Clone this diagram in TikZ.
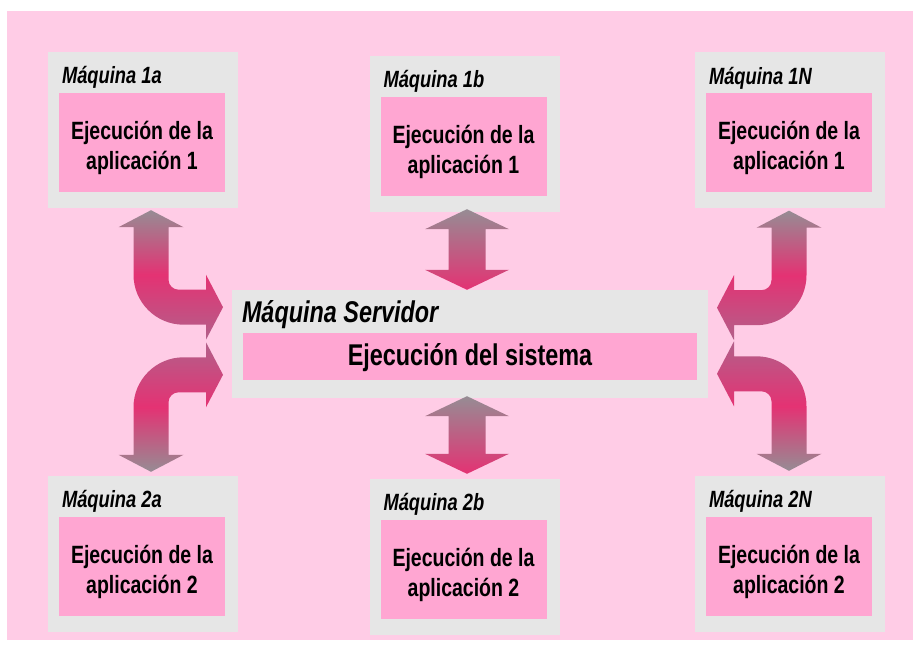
\documentclass[tikz,border=0pt]{standalone}
\usepackage{fontspec}
\setmainfont{Liberation Sans}[FakeStretch=0.78]
\usetikzlibrary{calc}

\definecolor{bgpink}{RGB}{255,204,230}
\definecolor{boxgray}{RGB}{230,230,230}
\definecolor{apppink}{RGB}{255,166,210}
\definecolor{arrgray}{RGB}{150,140,148}
\definecolor{arrpink}{RGB}{228,50,115}
\definecolor{arrmauve}{RGB}{178,96,138}

\tikzset{
  machine/.style = {fill=boxgray, minimum width=190pt, minimum height=156pt, inner sep=0pt},
  app/.style     = {fill=apppink, minimum width=166pt, minimum height=99pt, inner sep=0pt},
  apptext/.style = {align=center, inner sep=0pt, font=\bfseries\fontsize{25}{30}\selectfont},
  mtitle/.style  = {anchor=base west, inner sep=0pt, font=\bfseries\itshape\fontsize{23.5}{27}\selectfont},
  vshade/.style  = {top color=arrgray, bottom color=arrpink},
  bendtop/.style = {top color=arrgray, bottom color=arrmauve, middle color=arrpink},
  bendbot/.style = {top color=arrmauve, bottom color=arrgray, middle color=arrpink},
}

% straight double arrow, #1 upper tip, #2 lower tip
\newcommand\vlink[2]{%
  \path[vshade] let \p1=#1, \p2=#2 in
    (\x1,\y1) -- (\x1+42pt,\y1-20pt) -- (\x1+18.5pt,\y1-20pt)
    -- (\x1+18.5pt,\y2+20pt) -- (\x1+42pt,\y2+20pt) -- (\x1,\y2)
    -- (\x1-42pt,\y2+20pt) -- (\x1-18.5pt,\y2+20pt)
    -- (\x1-18.5pt,\y1-20pt) -- (\x1-42pt,\y1-20pt) -- cycle;}

% bent double arrow, #1 tip at machine, #2/#3 directions, #4 shading
\newcommand\bendarrow[4]{%
  \begin{scope}[shift={#1}, x={(#2pt,0)}, y={(0,#3pt)}]
    \path[#4] (0,0) -- (32.5,17) -- (17.5,17) -- (17.5,69.5)
      .. controls (17.5,75) and (22,79.5) .. (27.5,79.5)
      -- (55,79.5) -- (55,64.5) -- (72,97) -- (55,129.5) -- (55,114.5)
      -- (32.5,114.5) .. controls (4.9,114.5) and (-17.5,92) .. (-17.5,64.5)
      -- (-17.5,17) -- (-32.5,17) -- cycle;
  \end{scope}}

\begin{document}
\begin{tikzpicture}[x=1pt, y=-1pt]
\useasboundingbox (0,0) rectangle (919,647);
\fill[bgpink] (7,11) rectangle (913,640);

% client machines
\foreach \id/\cx/\cy/\n in {1a/143/130/1, 1b/464.5/134/1, 1N/790/130.5/1,
                            2a/143/554/2, 2b/464.5/557/2, 2N/790/554/2} {
  \node[machine] (m\id) at (\cx,\cy) {};
  \node[mtitle] (t\id) at ($(m\id.north west)+(14,32)$) {Máquina \id};
  \node[app] (a\id) at ($(m\id.center)+(-1,12.5)$) {};
  \node[apptext] (l\id) at ($(a\id.center)+(0,5)$) {Ejecución de la\\aplicación \n};
}

% server
\node[machine, minimum width=476pt, minimum height=108pt] (srv) at (470,344) {};
\node[mtitle, font=\bfseries\itshape\fontsize{30}{34}\selectfont] (tsrv)
  at ($(srv.north west)+(10,33)$) {Máquina Servidor};
\node[app, minimum width=454pt, minimum height=47pt] (asrv)
  at ($(srv.center)+(0,12.5)$) {};
\node[apptext, font=\bfseries\fontsize{30}{34}\selectfont] (lsrv)
  at ($(asrv.center)+(0,1)$) {Ejecución del sistema};

% arrows
\vlink{($(m1b.south)+(2.5,-3)$)}{(srv.north)}
\vlink{($(srv.south)+(-3,-2)$)}{($(m2b.north)+(0,-5)$)}
\bendarrow{($(m1a.south)+(8,2)$)}{1}{-1}{bendtop}
\bendarrow{($(m2a.north)+(8,-4)$)}{1}{1}{bendbot}
\bendarrow{($(m1N.south)+(-1,2)$)}{-1}{-1}{bendtop}
\bendarrow{($(m2N.north)+(-1,-5)$)}{-1}{1}{bendbot}
\end{tikzpicture}
\end{document}
